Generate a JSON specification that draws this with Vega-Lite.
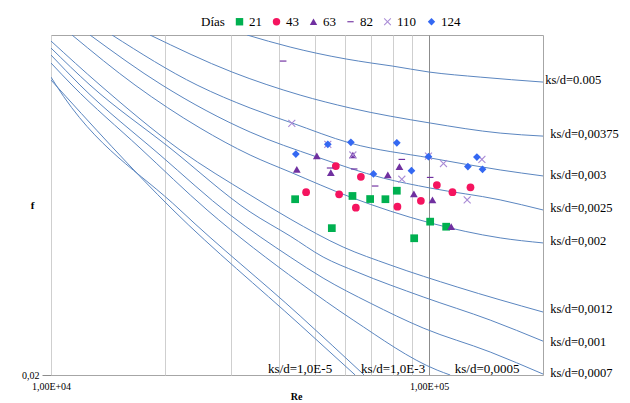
{
  "$schema": "https://vega.github.io/schema/vega-lite/v6.json",
  "width": 492,
  "height": 340,
  "autosize": "none",
  "padding": {"left": 51, "top": 35, "right": 87, "bottom": 28},
  "background": "white",
  "config": {
    "font": "Liberation Serif",
    "view": {"stroke": "#A6A6A6", "strokeWidth": 1}
  },
  "datasets": {
    "curves": [
      {"k": "A", "Re": 33000, "f": 0.04}, {"k": "A", "Re": 42889, "f": 0.03903}, {"k": "A", "Re": 50241, "f": 0.03855}, {"k": "A", "Re": 60329, "f": 0.03809}, {"k": "A", "Re": 70238, "f": 0.03778}, {"k": "A", "Re": 79808, "f": 0.03755}, {"k": "A", "Re": 100000, "f": 0.03709}, {"k": "A", "Re": 136440, "f": 0.03671}, {"k": "A", "Re": 200000, "f": 0.03634},
      {"k": "B", "Re": 18274, "f": 0.04}, {"k": "B", "Re": 30124, "f": 0.03709}, {"k": "B", "Re": 45579, "f": 0.03539}, {"k": "B", "Re": 61818, "f": 0.03447}, {"k": "B", "Re": 100612, "f": 0.03343}, {"k": "B", "Re": 154100, "f": 0.03275}, {"k": "B", "Re": 200000, "f": 0.03255},
      {"k": "C", "Re": 14500, "f": 0.04}, {"k": "C", "Re": 24336, "f": 0.03612}, {"k": "C", "Re": 33609, "f": 0.03447}, {"k": "C", "Re": 43414, "f": 0.03343}, {"k": "C", "Re": 61818, "f": 0.03209}, {"k": "C", "Re": 100612, "f": 0.03113}, {"k": "C", "Re": 154100, "f": 0.03038}, {"k": "C", "Re": 200000, "f": 0.03001},
      {"k": "D", "Re": 12680, "f": 0.04}, {"k": "D", "Re": 19663, "f": 0.03612}, {"k": "D", "Re": 33609, "f": 0.03282}, {"k": "D", "Re": 50547, "f": 0.03119}, {"k": "D", "Re": 75548, "f": 0.02988}, {"k": "D", "Re": 100612, "f": 0.02928}, {"k": "D", "Re": 154100, "f": 0.02858}, {"k": "D", "Re": 200000, "f": 0.028},
      {"k": "E", "Re": 11365, "f": 0.04}, {"k": "E", "Re": 16681, "f": 0.03612}, {"k": "E", "Re": 24785, "f": 0.03309}, {"k": "E", "Re": 33609, "f": 0.03132}, {"k": "E", "Re": 42889, "f": 0.03025}, {"k": "E", "Re": 61818, "f": 0.02875}, {"k": "E", "Re": 100612, "f": 0.02727}, {"k": "E", "Re": 154100, "f": 0.02645}, {"k": "E", "Re": 200000, "f": 0.02618},
      {"k": "F", "Re": 10000, "f": 0.03951}, {"k": "F", "Re": 13478, "f": 0.03612}, {"k": "F", "Re": 21940, "f": 0.03164}, {"k": "F", "Re": 33609, "f": 0.02887}, {"k": "F", "Re": 42889, "f": 0.02749}, {"k": "F", "Re": 59237, "f": 0.02596}, {"k": "F", "Re": 78842, "f": 0.02503}, {"k": "F", "Re": 118605, "f": 0.02393}, {"k": "F", "Re": 200000, "f": 0.02274},
      {"k": "G", "Re": 10000, "f": 0.03895}, {"k": "G", "Re": 12680, "f": 0.03612}, {"k": "G", "Re": 20640, "f": 0.03177}, {"k": "G", "Re": 33609, "f": 0.02789}, {"k": "G", "Re": 42889, "f": 0.02655}, {"k": "G", "Re": 52431, "f": 0.02544}, {"k": "G", "Re": 64509, "f": 0.02467}, {"k": "G", "Re": 96413, "f": 0.02345}, {"k": "G", "Re": 145000, "f": 0.02237}, {"k": "G", "Re": 200000, "f": 0.02143},
      {"k": "H", "Re": 10000, "f": 0.0384}, {"k": "H", "Re": 11932, "f": 0.03612}, {"k": "H", "Re": 19425, "f": 0.03132}, {"k": "H", "Re": 29759, "f": 0.02772}, {"k": "H", "Re": 42889, "f": 0.02544}, {"k": "H", "Re": 52431, "f": 0.02437}, {"k": "H", "Re": 69811, "f": 0.02316}, {"k": "H", "Re": 96413, "f": 0.02201}, {"k": "H", "Re": 145000, "f": 0.02096}, {"k": "H", "Re": 200000, "f": 0.02004},
      {"k": "I", "Re": 10000, "f": 0.03778}, {"k": "I", "Re": 11365, "f": 0.03612}, {"k": "I", "Re": 17197, "f": 0.03177}, {"k": "I", "Re": 25866, "f": 0.028}, {"k": "I", "Re": 45579, "f": 0.02413}, {"k": "I", "Re": 62957, "f": 0.02237}, {"k": "I", "Re": 104989, "f": 0.0202}, {"k": "I", "Re": 113650, "f": 0.02},
      {"k": "J", "Re": 10000, "f": 0.03671}, {"k": "J", "Re": 10309, "f": 0.03612}, {"k": "J", "Re": 21940, "f": 0.028}, {"k": "J", "Re": 45579, "f": 0.02256}, {"k": "J", "Re": 67307, "f": 0.02},
      {"k": "K", "Re": 10000, "f": 0.03649}, {"k": "K", "Re": 21021, "f": 0.028}, {"k": "K", "Re": 45579, "f": 0.02215}, {"k": "K", "Re": 63728, "f": 0.02}
    ],
    "rlabels": [
      {"t": "ks/d=0.005", "Re": 202700, "f": 0.03649},
      {"t": "ks/d=0,00375", "Re": 208990, "f": 0.03269},
      {"t": "ks/d=0,003", "Re": 208990, "f": 0.03007},
      {"t": "ks/d=0,0025", "Re": 208990, "f": 0.02811},
      {"t": "ks/d=0,002", "Re": 208990, "f": 0.02628},
      {"t": "ks/d=0,0012", "Re": 208990, "f": 0.02288},
      {"t": "ks/d=0,001", "Re": 208990, "f": 0.02139},
      {"t": "ks/d=0,0007", "Re": 208990, "f": 0.02008}
    ],
    "blabels": [
      {"t": "ks/d=1,0E-5", "Re": 45579, "f": 0.020246},
      {"t": "ks/d=1,0E-3", "Re": 80297, "f": 0.020246},
      {"t": "ks/d=0,0005", "Re": 142370, "f": 0.020246}
    ],
    "pts": [
      {"dias": 21, "Re": 44214, "f": 0.02862}, {"dias": 21, "Re": 55284, "f": 0.02698}, {"dias": 21, "Re": 62689, "f": 0.02881}, {"dias": 21, "Re": 69811, "f": 0.02863}, {"dias": 21, "Re": 76616, "f": 0.02862}, {"dias": 21, "Re": 82127, "f": 0.02912}, {"dias": 21, "Re": 91277, "f": 0.02643}, {"dias": 21, "Re": 100612, "f": 0.02734}, {"dias": 21, "Re": 110910, "f": 0.02706},
      {"dias": 43, "Re": 47272, "f": 0.02903}, {"dias": 43, "Re": 56647, "f": 0.03062}, {"dias": 43, "Re": 57797, "f": 0.02891}, {"dias": 43, "Re": 64000, "f": 0.02813}, {"dias": 43, "Re": 65983, "f": 0.02996}, {"dias": 43, "Re": 82428, "f": 0.02819}, {"dias": 43, "Re": 95079, "f": 0.02853}, {"dias": 43, "Re": 104800, "f": 0.02946}, {"dias": 43, "Re": 115250, "f": 0.02903}, {"dias": 43, "Re": 128610, "f": 0.02932},
      {"dias": 63, "Re": 44668, "f": 0.03042}, {"dias": 63, "Re": 50455, "f": 0.03127}, {"dias": 63, "Re": 54949, "f": 0.03021}, {"dias": 63, "Re": 62842, "f": 0.03132}, {"dias": 63, "Re": 77744, "f": 0.03007}, {"dias": 63, "Re": 83438, "f": 0.03058}, {"dias": 63, "Re": 91110, "f": 0.02893}, {"dias": 63, "Re": 102030, "f": 0.02858}, {"dias": 63, "Re": 114340, "f": 0.02706},
      {"dias": 82, "Re": 41103, "f": 0.03793}, {"dias": 82, "Re": 54716, "f": 0.0305}, {"dias": 82, "Re": 63342, "f": 0.03044}, {"dias": 82, "Re": 71969, "f": 0.0294}, {"dias": 82, "Re": 84668, "f": 0.03104}, {"dias": 82, "Re": 100612, "f": 0.02992},
      {"dias": 110, "Re": 43334, "f": 0.03341}, {"dias": 110, "Re": 53954, "f": 0.03201}, {"dias": 110, "Re": 62842, "f": 0.03132}, {"dias": 110, "Re": 84668, "f": 0.02981}, {"dias": 110, "Re": 99575, "f": 0.03125}, {"dias": 110, "Re": 109100, "f": 0.03078}, {"dias": 110, "Re": 126050, "f": 0.02858}, {"dias": 110, "Re": 137870, "f": 0.03104},
      {"dias": 124, "Re": 44403, "f": 0.03138}, {"dias": 124, "Re": 53954, "f": 0.03201}, {"dias": 124, "Re": 62081, "f": 0.03214}, {"dias": 124, "Re": 82127, "f": 0.03211}, {"dias": 124, "Re": 71229, "f": 0.03013}, {"dias": 124, "Re": 89786, "f": 0.03033}, {"dias": 124, "Re": 99575, "f": 0.03121}, {"dias": 124, "Re": 126590, "f": 0.03059}, {"dias": 124, "Re": 133720, "f": 0.03119}, {"dias": 124, "Re": 138380, "f": 0.03042}
    ]
  },
  "encoding": {
    "x": {
      "field": "Re", "type": "quantitative",
      "scale": {"type": "log", "domain": [10000, 200000], "nice": false, "zero": false},
      "axis": {
        "title": "Re", "values": [10000, 20000, 30000, 40000, 50000, 60000, 70000, 80000, 90000, 100000],
        "labelExpr": "datum.value == 10000 ? '1,00E+04' : (datum.value == 100000 ? '1,00E+05' : '')",
        "grid": true,
        "gridColor": {"condition": {"test": "datum.value == 100000", "value": "#8C8C8C"}, "value": "#CFCFCF"},
        "gridWidth": 1, "ticks": false, "domain": false, "labelFlush": false, "labelOverlap": false,
        "labelFont": "Liberation Serif", "labelFontSize": 10, "labelColor": "#000000", "labelPadding": 6,
        "titleFont": "Liberation Serif", "titleFontSize": 10, "titleFontWeight": "bold", "titleColor": "#000000",
        "titleX": 245, "titleY": 21, "titleBaseline": "middle", "titleAlign": "center"
      }
    },
    "y": {
      "field": "f", "type": "quantitative",
      "scale": {"type": "log", "domain": [0.02, 0.04], "nice": false, "zero": false},
      "axis": {
        "title": "f", "values": [0.02], "labelExpr": "'0,02'", "grid": false, "domain": false,
        "ticks": true, "tickSize": 9, "tickColor": "#8C8C8C", "labelPadding": 3,
        "labelFont": "Liberation Serif", "labelFontSize": 10, "labelColor": "#000000",
        "titleFont": "Liberation Serif", "titleFontSize": 11, "titleFontWeight": "bold", "titleColor": "#000000",
        "titleAngle": 0, "titleX": -19, "titleY": 170, "titleBaseline": "middle", "titleAlign": "center"
      }
    }
  },
  "layer": [
    {
      "data": {"name": "curves"},
      "mark": {"type": "line", "color": "#5B86C0", "strokeWidth": 1, "interpolate": "monotone", "clip": true},
      "encoding": {"detail": {"field": "k", "type": "nominal"}}
    },
    {
      "data": {"name": "rlabels"},
      "mark": {"type": "text", "align": "left", "baseline": "middle", "font": "Liberation Serif", "fontSize": 12.5, "color": "#000000"},
      "encoding": {"text": {"field": "t", "type": "nominal"}}
    },
    {
      "data": {"name": "blabels"},
      "mark": {"type": "text", "align": "center", "baseline": "middle", "font": "Liberation Serif", "fontSize": 13, "color": "#000000"},
      "encoding": {"text": {"field": "t", "type": "nominal"}}
    },
    {
      "data": {"name": "pts"},
      "mark": {"type": "point", "filled": true, "opacity": 1, "size": 60},
      "encoding": {
        "color": {
          "field": "dias", "type": "nominal",
          "scale": {"domain": [21, 43, 63, 82, 110, 124], "range": ["#00B050", "#F5145F", "#7030A0", "#7030A0", "#A98BD6", "#3468F2"]},
          "legend": {
            "title": "Días", "orient": "none", "direction": "horizontal", "legendX": 150, "legendY": -20,
            "titleOrient": "left", "titleFont": "Liberation Serif", "titleFontSize": 13, "titleFontWeight": "normal", "titleColor": "#000000",
            "labelFont": "Liberation Serif", "labelFontSize": 13, "labelColor": "#000000",
            "symbolSize": 55, "labelOffset": 3, "columnPadding": 8, "titlePadding": 8
          }
        },
        "shape": {
          "field": "dias", "type": "nominal",
          "scale": {"domain": [21, 43, 63, 82, 110, 124], "range": ["square", "circle", "triangle-up", "M-0.85,-0.15H0.85V0.15H-0.85Z", "M-1,-0.8L-0.8,-1L0,-0.2L0.8,-1L1,-0.8L0.2,0L1,0.8L0.8,1L0,0.2L-0.8,1L-1,0.8L-0.2,0Z", "diamond"]}
        }
      }
    }
  ]
}
